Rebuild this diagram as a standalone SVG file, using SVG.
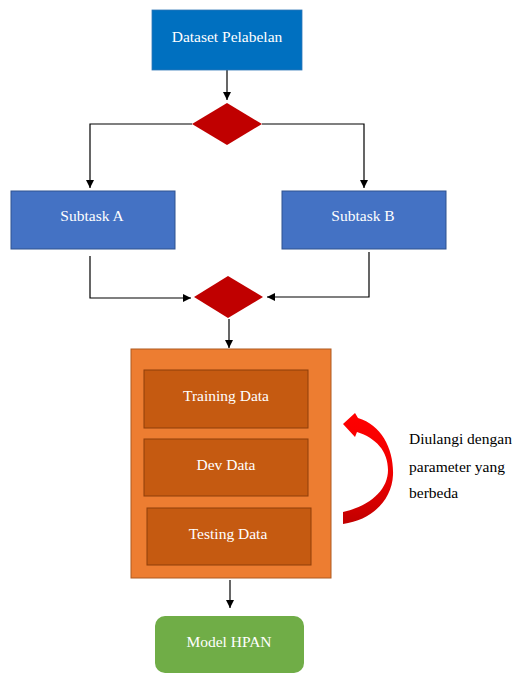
<svg xmlns="http://www.w3.org/2000/svg" width="517" height="674" viewBox="0 0 517 674">
  <defs>
    <marker id="arrow" viewBox="0 0 10 10" refX="10" refY="5" markerWidth="8" markerHeight="8" markerUnits="userSpaceOnUse" orient="auto">
      <path d="M0,0 L10,5 L0,10 Z" fill="#000"/>
    </marker>
    <linearGradient id="redArc" x1="0" y1="0" x2="0" y2="1">
      <stop offset="0" stop-color="#FF0000"/>
      <stop offset="0.55" stop-color="#F00000"/>
      <stop offset="1" stop-color="#C00000"/>
    </linearGradient>
    <style>
      .lbl { font-size: 15.5px; fill: #FFFFFF; text-anchor: middle; dominant-baseline: central; }
      .note { font-size: 15.5px; fill: #000000; }
      .conn { fill: none; stroke: #000; stroke-width: 1.2; }
      .decision { fill: #C00000; }
      .task { fill: #4472C4; stroke: #2F528F; stroke-width: 1; }
      .part { fill: #C55A11; stroke: #8E3F0B; stroke-width: 1; }
    </style>
  </defs>

  <g id="connectors">
    <path class="conn" d="M227,70 V100" marker-end="url(#arrow)"/>
    <path class="conn" d="M192,124 H90 V188" marker-end="url(#arrow)"/>
    <path class="conn" d="M262,124 H364 V188" marker-end="url(#arrow)"/>
    <path class="conn" d="M90,256 V298 H191" marker-end="url(#arrow)"/>
    <path class="conn" d="M369,252 V297 H267" marker-end="url(#arrow)"/>
    <path class="conn" d="M229,319 V348" marker-end="url(#arrow)"/>
    <path class="conn" d="M230,580 V608" marker-end="url(#arrow)"/>
  </g>

  <g font-family="'Liberation Serif', 'DejaVu Serif', serif">
    <g id="dataset">
      <rect x="152" y="10" width="150" height="60" fill="#0070C0" stroke="#2E75B6" stroke-width="0.8"/>
      <text class="lbl" x="227" y="36">Dataset Pelabelan</text>
    </g>

    <g id="split">
      <polygon class="decision" points="227,103 262,124 227,145 192,124"/>
    </g>

    <g id="subtaskA">
      <rect class="task" x="11" y="191" width="164" height="58"/>
      <text class="lbl" x="92" y="215">Subtask A</text>
    </g>

    <g id="subtaskB">
      <rect class="task" x="282" y="191" width="164" height="58"/>
      <text class="lbl" x="363" y="215">Subtask B</text>
    </g>

    <g id="merge">
      <polygon class="decision" points="228,276 263,297 228,318 194,297"/>
    </g>

    <g id="dataSplit">
      <rect x="131" y="349" width="200" height="229" fill="#ED7D31" stroke="#AE5A21" stroke-width="1"/>
      <g id="training">
        <rect class="part" x="144" y="370" width="164" height="58"/>
        <text class="lbl" x="226" y="395">Training Data</text>
      </g>
      <g id="dev">
        <rect class="part" x="144" y="439" width="164" height="57"/>
        <text class="lbl" x="226" y="464">Dev Data</text>
      </g>
      <g id="testing">
        <rect class="part" x="147" y="508" width="164" height="57"/>
        <text class="lbl" x="228" y="533">Testing Data</text>
      </g>
    </g>

    <g id="repeat">
      <path fill="url(#redArc)" d="M343,512 C370,506 388,490 388,470 C388,451 376,438 357,432 L355,437 L343,424 L355,413 L358,418 C382,425 394,450 393,475 C392,500 372,520 343,524 Z"/>
      <text class="note" x="409" y="444">Diulangi dengan</text>
      <text class="note" x="409" y="472">parameter yang</text>
      <text class="note" x="409" y="498">berbeda</text>
    </g>

    <g id="model">
      <rect x="155" y="616" width="149" height="57" rx="10" ry="10" fill="#70AD47"/>
      <text class="lbl" x="229" y="641">Model HPAN</text>
    </g>
  </g>
</svg>
